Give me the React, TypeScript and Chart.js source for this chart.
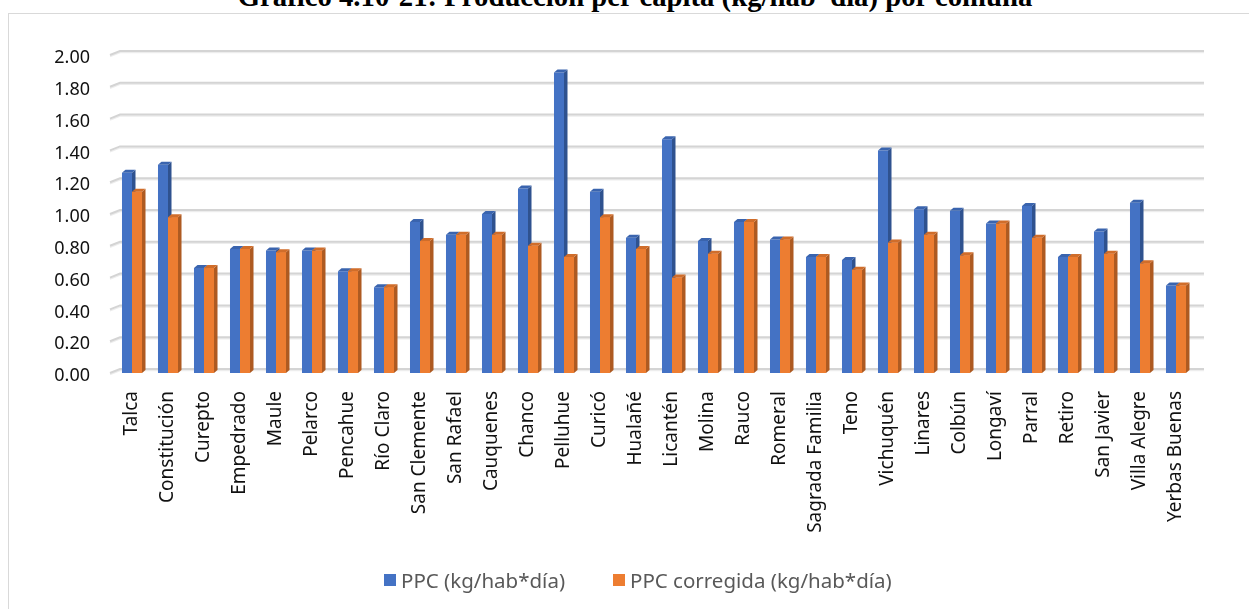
import React, { useEffect, useLayoutEffect, useRef } from 'react';
import { Chart, registerables } from 'chart.js';

Chart.register(...registerables);

const TITLE = 'Gráfico 4.10-21: Producción per cápita (kg/hab*día) por comuna';

const categories = [
  'Talca', 'Constitución', 'Curepto', 'Empedrado', 'Maule', 'Pelarco', 'Pencahue', 'Río Claro',
  'San Clemente', 'San Rafael', 'Cauquenes', 'Chanco', 'Pelluhue', 'Curicó', 'Hualañé', 'Licantén',
  'Molina', 'Rauco', 'Romeral', 'Sagrada Familia', 'Teno', 'Vichuquén', 'Linares', 'Colbún',
  'Longaví', 'Parral', 'Retiro', 'San Javier', 'Villa Alegre', 'Yerbas Buenas',
];

const ppc = [
  1.26, 1.31, 0.66, 0.78, 0.77, 0.77, 0.64, 0.54, 0.95, 0.87, 1.0, 1.16, 1.89, 1.14, 0.85, 1.47,
  0.83, 0.95, 0.84, 0.73, 0.71, 1.4, 1.03, 1.02, 0.94, 1.05, 0.73, 0.89, 1.07, 0.55,
];

const ppcCorregida = [
  1.14, 0.98, 0.66, 0.78, 0.76, 0.77, 0.64, 0.54, 0.83, 0.87, 0.87, 0.8, 0.73, 0.98, 0.78, 0.6,
  0.75, 0.95, 0.84, 0.73, 0.65, 0.82, 0.87, 0.74, 0.94, 0.85, 0.73, 0.75, 0.69, 0.55,
];

const seriesNames = ['PPC (kg/hab*día)', 'PPC corregida (kg/hab*día)'];
const frontColors = ['#4472C4', '#ED7D31'];
const sideColors = ['#2F528F', '#AE5A21'];
const topColors = ['#3A64AE', '#D06D2A'];

const yMin = 0;
const yMax = 2;
const yStep = 0.2;

const DX = 3.5;
const DY = 3;

const depthPlugin = {
  id: 'depth3d',
  beforeDatasetsDraw(chart: any) {
    const { ctx, chartArea, scales } = chart;
    const ys = scales.y;
    ctx.save();
    ys.ticks.forEach((t: any) => {
      const yp = ys.getPixelForValue(t.value);
      // shadow
      ctx.strokeStyle = '#ededed';
      ctx.lineWidth = 1.5;
      ctx.beginPath();
      ctx.moveTo(chartArea.left - 4, yp + 1.5);
      ctx.lineTo(chartArea.left + 6, yp - DY - 1 + 1.5);
      ctx.lineTo(chartArea.right + 10, yp - DY - 1 + 1.5);
      ctx.stroke();
      ctx.strokeStyle = '#d4d4d4';
      ctx.lineWidth = 2;
      ctx.beginPath();
      ctx.moveTo(chartArea.left - 4, yp);
      ctx.lineTo(chartArea.left + 6, yp - DY - 1);
      ctx.lineTo(chartArea.right + 10, yp - DY - 1);
      ctx.stroke();
    });
    ctx.restore();
  },
  afterDatasetsDraw(chart: any) {
    const { ctx } = chart;
    const m0 = chart.getDatasetMeta(0);
    const m1 = chart.getDatasetMeta(1);
    const poly = (pts: number[][], color: string) => {
      ctx.fillStyle = color;
      ctx.beginPath();
      ctx.moveTo(pts[0][0], pts[0][1]);
      for (let i = 1; i < pts.length; i++) ctx.lineTo(pts[i][0], pts[i][1]);
      ctx.closePath();
      ctx.fill();
    };
    const faces = (el: any, k: number) => {
      const { x, y, base, width } = el.getProps(['x', 'y', 'base', 'width'], true);
      const l = x - width / 2;
      const r = x + width / 2;
      poly([[r, y], [r + DX, y - DY], [r + DX, base - DY], [r, base]], sideColors[k]);
      poly([[l, y], [l + DX, y - DY], [r + DX, y - DY], [r, y]], topColors[k]);
    };
    ctx.save();
    for (let i = 0; i < m0.data.length; i++) {
      faces(m0.data[i], 0);
      const el = m1.data[i];
      const { x, y, base, width } = el.getProps(['x', 'y', 'base', 'width'], true);
      ctx.fillStyle = frontColors[1];
      ctx.fillRect(x - width / 2, y, width, base - y);
      faces(el, 1);
    }
    ctx.restore();
  },
};

export default function App() {
  const canvasRef = useRef<HTMLCanvasElement>(null);
  const titleRef = useRef<HTMLSpanElement>(null);
  const titleBoxRef = useRef<HTMLDivElement>(null);

  useLayoutEffect(() => {
    const span = titleRef.current;
    const box = titleBoxRef.current;
    if (!span || !box) return;
    const base = 20;
    span.style.fontSize = base + 'px';
    const w = span.getBoundingClientRect().width;
    const fs = (base * 795) / w;
    span.style.fontSize = fs + 'px';
    box.style.lineHeight = fs + 'px';
    box.style.top = 6 - 0.837 * fs + 'px';
  }, []);

  useEffect(() => {
    if (!canvasRef.current) return;
    const chart = new Chart(canvasRef.current, {
      type: 'bar',
      data: {
        labels: categories,
        datasets: [
          {
            label: seriesNames[0],
            data: ppc,
            backgroundColor: frontColors[0],
            borderWidth: 0,
            barPercentage: 1,
            categoryPercentage: 0.556,
          },
          {
            label: seriesNames[1],
            data: ppcCorregida,
            backgroundColor: frontColors[1],
            borderWidth: 0,
            barPercentage: 1,
            categoryPercentage: 0.556,
          },
        ],
      },
      options: {
        responsive: false,
        animation: false,
        layout: { padding: { left: 0, right: 55, top: 55, bottom: 0 } },
        plugins: {
          legend: { display: false },
          title: { display: false },
          tooltip: { enabled: false },
        },
        scales: {
          x: {
            grid: { display: false, drawTicks: false },
            border: { display: false },
            ticks: {
              autoSkip: false,
              maxRotation: 90,
              minRotation: 90,
              padding: 18,
              color: '#111',
              font: { family: "'Noto Sans', sans-serif", size: 19 },
            },
            afterFit: (s: any) => {
              s.height = 236;
            },
          },
          y: {
            min: yMin,
            max: yMax,
            grid: { display: false, drawTicks: false },
            border: { display: false },
            ticks: {
              stepSize: yStep,
              padding: 24,
              labelOffset: 3,
              color: '#111',
              font: { family: "'Noto Sans', sans-serif", size: 18 },
              callback: (v: any) => Number(v).toFixed(2),
            },
            afterFit: (s: any) => {
              s.width = 114;
            },
          },
        },
      },
      plugins: [depthPlugin],
    });
    return () => chart.destroy();
  }, []);

  const legendFont = "'Noto Sans', sans-serif";

  return (
    <div style={{ position: 'fixed', left: 0, top: 0, width: 1249, height: 609, overflow: 'hidden', background: '#fff' }}>
      <div
        style={{
          position: 'absolute',
          left: 8,
          top: 13,
          width: 1270,
          height: 640,
          border: '1px solid #d9d9d9',
          boxSizing: 'border-box',
        }}
      />
      <div
        ref={titleBoxRef}
        style={{
          position: 'absolute',
          left: 0,
          top: -15,
          width: 1270,
          textAlign: 'center',
          whiteSpace: 'nowrap',
          fontFamily: "'Liberation Serif', serif",
          fontWeight: 'bold',
          color: '#000',
        }}
      >
        <span ref={titleRef}>{TITLE}</span>
      </div>
      <canvas
        ref={canvasRef}
        width={1249}
        height={609}
        style={{ position: 'absolute', left: 0, top: 0, width: 1249, height: 609 }}
      />
      {[0, 1].map((k) => (
        <div
          key={k}
          style={{
            position: 'absolute',
            left: k === 0 ? 384 : 613,
            top: 566,
            height: 28,
            display: 'flex',
            alignItems: 'center',
            whiteSpace: 'nowrap',
            fontFamily: legendFont,
            fontSize: 20.5,
            color: '#595959',
          }}
        >
          <span style={{ display: 'inline-block', width: 12, height: 12, background: frontColors[k], marginRight: 5 }} />
          <span>{seriesNames[k]}</span>
        </div>
      ))}
    </div>
  );
}
